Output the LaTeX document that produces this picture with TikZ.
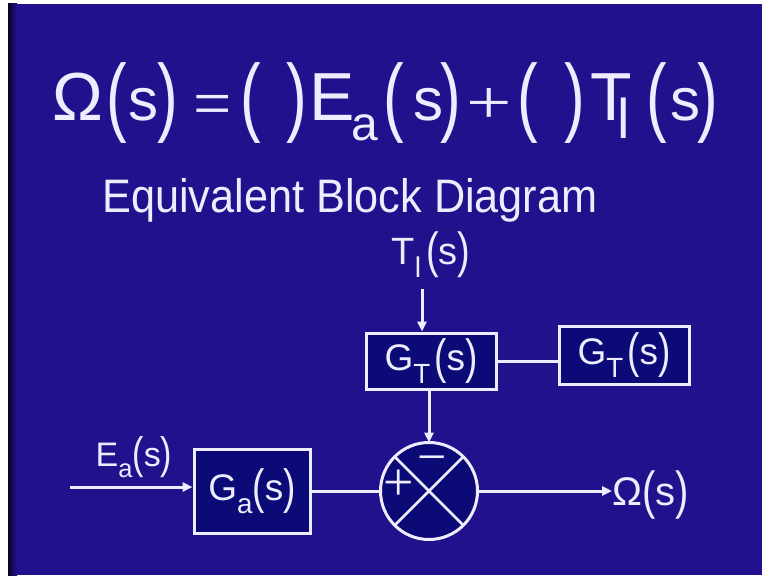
\documentclass[tikz,border=0pt]{standalone}
\usepackage{fontspec}
\setmainfont{Liberation Sans}
\newfontfamily\thinfont{Liberation Serif}
\usetikzlibrary{arrows.meta}
\definecolor{bg}{RGB}{34,17,140}
\definecolor{bgdark}{RGB}{8,4,40}
\definecolor{boxfill}{RGB}{12,10,118}
\definecolor{ink}{RGB}{238,236,255}
\newcommand\lsub[1]{\raisebox{-0.35em}{\scalebox{0.75}{#1}}}
\newcommand\tpar[1]{\raisebox{-0.08em}{\scalebox{1}[1.3]{#1}}}
\newcommand\fs[1]{\fontsize{#1}{#1}\selectfont}
\begin{document}
\begin{tikzpicture}[x=1pt,y=-1pt,
  glyph/.style={text=ink, inner sep=0pt, anchor=base},
  bigpar/.style={text=ink, inner sep=0pt, anchor=center, font=\fs{62}},
  lbl/.style={text=ink, inner sep=0pt},
  blk/.style={draw=ink, fill=boxfill, line width=3pt, inner sep=0pt, text=ink, font=\fs{37}},
  sumnode/.style={circle, draw=ink, fill=boxfill, line width=3pt, outer sep=0pt, inner sep=0pt, minimum size=97pt},
  conn/.style={draw=ink, line width=3pt},
  arr/.style={draw=ink, line width=3pt, -{Triangle[length=10pt,width=9pt]}}
]
\useasboundingbox (0,0) rectangle (762,575);
\fill[white] (0,0) rectangle (762,575);
\fill[bg] (8,4) rectangle (762,575);
\shade[left color=bgdark, right color=bg] (8,4) rectangle (17,575);

% title equation
\node[glyph, font=\fs{68}] (om) at (78,121) {Ω};
\node[bigpar] (p1) at (117,103.5) {\scalebox{1}[1.4]{(}};
\node[glyph, font=\fs{60}] (s1) at (143,121) {s};
\node[bigpar] (p2) at (168,103.5) {\scalebox{1}[1.4]{)}};
\node[glyph, font=\thinfont\fs{68}] (eq) at (213,126) {=};
\node[bigpar] (p3) at (251,103.5) {\scalebox{1}[1.4]{(}};
\node[bigpar] (p4) at (297,103.5) {\scalebox{1}[1.4]{)}};
\node[glyph, font=\fs{68}] (E) at (332,121) {E};
\node[glyph, font=\fs{48}] (a) at (365,140) {a};
\node[bigpar] (p5) at (394,103.5) {\scalebox{1}[1.4]{(}};
\node[glyph, font=\fs{60}] (s2) at (428,121) {s};
\node[bigpar] (p6) at (451,103.5) {\scalebox{1}[1.4]{)}};
\node[glyph, font=\thinfont\fs{62}] (pl) at (489,124) {\scalebox{1.3}[1]{+}};
\node[bigpar] (p7) at (528,103.5) {\scalebox{1}[1.4]{(}};
\node[bigpar] (p8) at (575,103.5) {\scalebox{1}[1.4]{)}};
\node[glyph, font=\fs{68}] (T) at (611,121) {T};
\node[glyph, font=\fs{56}] (l) at (624,138) {l};
\node[bigpar] (p9) at (657,103.5) {\scalebox{1}[1.4]{(}};
\node[glyph, font=\fs{60}] (s3) at (685,121) {s};
\node[bigpar] (p10) at (708,103.5) {\scalebox{1}[1.4]{)}};

% subtitle
\node[glyph, font=\fs{47}] (sub) at (350,212) {\scalebox{0.92}[1]{Equivalent Block Diagram}};

% block diagram
\node[lbl, anchor=base, font=\fs{38}] (tl) at (431,264) {T\lsub{l}\hspace{5pt}\tpar{(}s\tpar{)}};
\node[blk, minimum width=130pt, minimum height=56pt] (G1) at (431,361) {G\lsub{T}\hspace{4pt}\tpar{(}s\tpar{)}};
\node[blk, minimum width=130pt, minimum height=58pt] (G2) at (624,355) {G\lsub{T}\hspace{4pt}\tpar{(}s\tpar{)}};
\node[blk, minimum width=116pt, minimum height=84pt] (Ga) at (252,491) {G\lsub{a}\tpar{(}s\tpar{)}};
\node[sumnode] (sum) at (429,491) {};
\draw[conn, line width=2.5pt] (sum.north west) -- (sum.south east);
\draw[conn, line width=2.5pt] (sum.north east) -- (sum.south west);
\node[glyph, font=\thinfont\fs{54}] (plus) at (399,500) {+};
\node[glyph, font=\thinfont\fs{52}] (minus) at (432,474) {−};
\node[lbl, anchor=base, font=\fs{34}] (ea) at (134,466) {E\lsub{a}\tpar{(}s\tpar{)}};
\node[lbl, anchor=base west, font=\fs{40}] (out) at (612,505) {Ω\tpar{(}s\tpar{)}};
\coordinate (tin) at (422,289);
\coordinate (ein) at (70,487);

\draw[arr] (tin) -- (tin |- G1.north);
\draw[conn] (G1.east) -- (G1.east -| G2.west);
\draw[arr] (sum.north |- G1.south) -- (sum.north);
\draw[arr] (ein) -- (ein -| Ga.west);
\draw[conn] (Ga.east) -- (sum.west);
\draw[arr] (sum.east) -- (sum.east -| out.west);
\end{tikzpicture}
\end{document}
